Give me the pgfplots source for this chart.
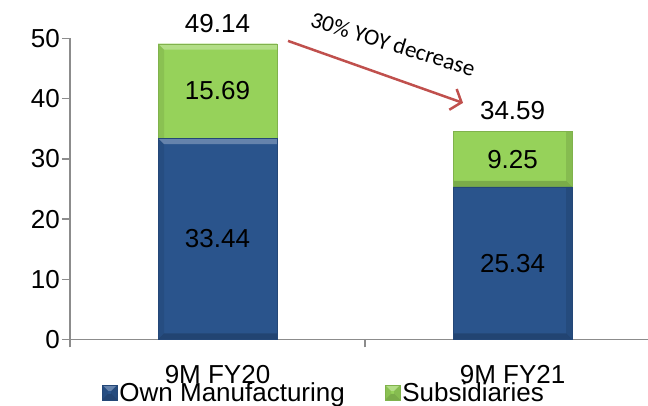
\documentclass[border=0pt]{standalone}
\usepackage{pgfplots}
\usepackage{pgfplotstable}
\pgfplotsset{compat=1.18}
\usepackage{fontspec}
\setmainfont{Liberation Sans}
\newfontfamily\notefont{Carlito}
\usetikzlibrary{arrows.meta}

\definecolor{ownblue}{HTML}{2A548C}
\definecolor{subgreen}{HTML}{96D25A}
\definecolor{axisgray}{HTML}{8C8C8C}
\definecolor{arrowred}{HTML}{C0504D}

% revenue split (Rs crore)
\pgfplotstableread{
x own sub total
0 33.44 15.69 49.14
1 25.34 9.25 34.59
}\salesdata

% bevelled face on each bar
\tikzset{
  bevelface/.style={draw=none, path picture={}},
  bevel/.style={
    path picture={
      \tikzset{every path/.style={}}
      \fill[bevelface,white,opacity=0.28]
        (path picture bounding box.north west) -- (path picture bounding box.north east)
        -- ([shift={(-6pt,-6pt)}]path picture bounding box.north east)
        -- ([shift={(6pt,-6pt)}]path picture bounding box.north west) -- cycle;
      \fill[bevelface,black,opacity=0.18]
        (path picture bounding box.south west) -- (path picture bounding box.south east)
        -- ([shift={(-6pt,6pt)}]path picture bounding box.south east)
        -- ([shift={(6pt,6pt)}]path picture bounding box.south west) -- cycle;
      \fill[bevelface,black,opacity=0.08]
        (path picture bounding box.north west) -- ([shift={(6pt,-6pt)}]path picture bounding box.north west)
        -- ([shift={(6pt,6pt)}]path picture bounding box.south west) -- (path picture bounding box.south west) -- cycle;
      \fill[bevelface,black,opacity=0.10]
        (path picture bounding box.north east) -- ([shift={(-6pt,-6pt)}]path picture bounding box.north east)
        -- ([shift={(-6pt,6pt)}]path picture bounding box.south east) -- (path picture bounding box.south east) -- cycle;
    }
  }
}

\newcommand{\bigfont}{\fontsize{26}{30}\selectfont}

\pgfplotsset{
  chartframe/.style={
    at={(0,0)}, anchor=south west,
    scale only axis, width=578pt, height=301pt,
    xmin=-0.5, xmax=1.459, ymin=0, ymax=50,
    clip=false,
  }
}

\begin{document}
\begin{tikzpicture}
\begin{axis}[
  chartframe,
  ybar stacked, bar width=119pt,
  axis lines*=left,
  axis line style={axisgray, line width=1.3pt},
  tick align=outside, major tick length=8pt,
  tick style={axisgray, line width=1.3pt},
  ytick={0,10,...,50},
  xtick={0,1}, xticklabels={9M FY20, 9M FY21},
  xtick style={draw=none},
  extra x ticks={-0.5,0.5}, extra x tick labels={},
  extra x tick style={xtick style={draw=axisgray, line width=1.3pt}},
  /pgf/number format/assume math mode=true,
  /pgf/number format/.cd, fixed, precision=2, /pgfplots/.cd,
  ticklabel style={font=\bigfont},
  yticklabel style={anchor=east, inner sep=0pt, xshift=-2pt},
  xticklabel style={anchor=north, inner sep=0pt, yshift=-18pt},
  legend style={at={(0.4394,-0.176)}, anchor=center, draw=none, fill=none,
    legend columns=2, font=\bigfont, inner sep=0pt,
    /tikz/every even column/.append style={column sep=38pt}},
  legend cell align=left,
  legend image code/.code={\path[#1] (0pt,-7.5pt) rectangle (15pt,7.5pt);},
  nodes near coords style={font=\bigfont, text=black, anchor=center},
]
\addplot[fill=ownblue, draw=ownblue!85!black, bevel,
  nodes near coords, point meta=explicit]
  table[x=x, y=own, meta=own] {\salesdata};
\addplot[fill=subgreen, draw=subgreen!85!black, bevel,
  nodes near coords, point meta=explicit]
  table[x=x, y=sub, meta=sub] {\salesdata};
\legend{Own Manufacturing, Subsidiaries}

\draw[arrowred, line width=2.5pt, -{Straight Barb[length=9pt,width=22pt]}]
  (axis cs:0.239,49.6) -- (axis cs:0.832,39.3);
\node[rotate=-17, font=\notefont\fontsize{23}{27}\selectfont]
  at (axis cs:0.595,49.1) {30\% YOY decrease};
\end{axis}

% totals written above each stack
\begin{axis}[chartframe, hide axis,
  /pgf/number format/assume math mode=true,
  /pgf/number format/.cd, fixed, precision=2, /pgfplots/.cd]
\addplot[only marks, mark=none, nodes near coords, point meta=explicit,
  nodes near coords style={font=\bigfont, text=black, anchor=south, inner sep=0pt, yshift=11pt}]
  table[x=x, y=total, meta=total] {\salesdata};
\end{axis}
\pgfresetboundingbox
\path (-70pt,-66.5pt) rectangle (578pt,339.5pt);
\end{tikzpicture}
\end{document}
